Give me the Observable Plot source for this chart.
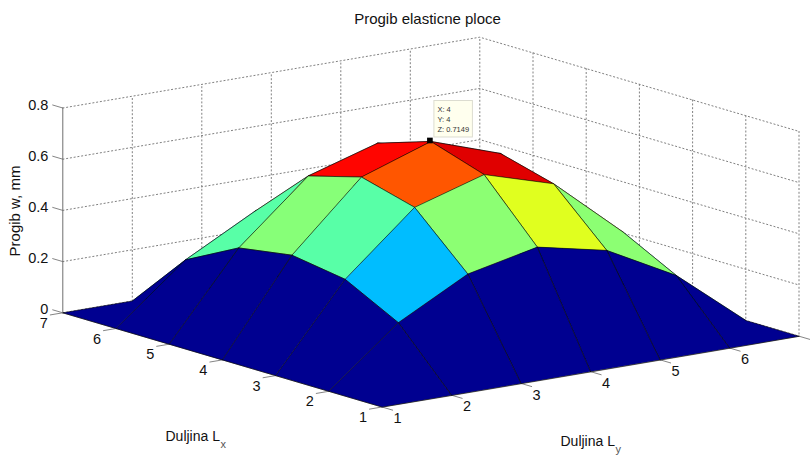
<!DOCTYPE html>
<html>
<head>
<meta charset="utf-8">
<script src="https://cdn.jsdelivr.net/npm/d3@7"></script>
<script src="https://cdn.jsdelivr.net/npm/@observablehq/plot@0.6"></script>
<style>html,body{margin:0;padding:0;background:#fff}svg{display:block}</style>
</head>
<body>
<div id="chart"></div>
<script>
// Values
const xTicks = [1, 2, 3, 4, 5, 6, 7];
const yTicks = [1, 2, 3, 4, 5, 6, 7];
const zTicks = [0, 0.2, 0.4, 0.6, 0.8];
const row1 = [0, 0, 0, 0, 0, 0, 0];
const row2 = [0, 0.222, 0.33, 0.363, 0.33, 0.222, 0];
const row3 = [0, 0.366, 0.565, 0.622, 0.565, 0.366, 0];
const row4 = [0, 0.425, 0.647, 0.7149, 0.647, 0.425, 0];
const row5 = [0, 0.366, 0.565, 0.622, 0.565, 0.366, 0];
const row6 = [0, 0.222, 0.33, 0.363, 0.33, 0.222, 0];
const row7 = [0, 0, 0, 0, 0, 0, 0];
const rows = [row1, row2, row3, row4, row5, row6, row7]; // rows[y-1][x-1]
const tipLines = ["X: 4", "Y: 4", "Z: 0.7149"];

// Fixed-view orthographic projection of the 3D axes onto the page plane
const W = 810, H = 455;
const origin = [381.5, 406.5], xStep = [-53.2, -15.7], yStep = [69.5, -11.8], zStep = -256;
const pu = (x, y) => origin[0] + (x - 1) * xStep[0] + (y - 1) * yStep[0];
const pv = (x, y, z) => origin[1] + (x - 1) * xStep[1] + (y - 1) * yStep[1] + z * zStep;
const P = (x, y, z, id, extra) => ({u: pu(x, y), v: pv(x, y, z), id, ...extra});

// Surface faces, back to front; each face coloured by its lowest-index corner
const faces = [];
for (let i = 6; i >= 1; --i) for (let j = 6; j >= 1; --j) {
  const z = (x, y) => rows[y - 1][x - 1];
  const id = `${i}-${j}`, c = z(i, j);
  for (const [x, y] of [[i, j], [i + 1, j], [i + 1, j + 1], [i, j + 1]])
    faces.push(P(x, y, z(x, y), id, {c}));
}

// Walls
const grid = [];
zTicks.forEach(z => {
  grid.push(P(7, 1, z, "zl" + z), P(7, 7, z, "zl" + z), P(1, 7, z, "zl" + z));
});
yTicks.slice(1).forEach(y => grid.push(P(7, y, 0, "wy" + y), P(7, y, 0.8, "wy" + y)));
xTicks.slice(0, 6).forEach(x => grid.push(P(x, 7, 0.8, "wx" + x), P(x, 7, 0, "wx" + x)));

// Axis lines and ticks
const axes = [
  P(7, 1, 0, "z"), P(7, 1, 0.8, "z"),
  P(1, 1, 0, "x"), P(7, 1, 0, "x"),
  P(1, 1, 0, "y"), P(1, 7, 0, "y")
];
const ticks = [];
zTicks.forEach(z => ticks.push(P(7, 1, z, "tz" + z), P(7.19, 1, z, "tz" + z)));
xTicks.forEach(x => ticks.push(P(x, 1, 0, "tx" + x), P(x, 0.82, 0, "tx" + x)));
yTicks.forEach(y => ticks.push(P(1, y, 0, "ty" + y), P(0.8, y, 0, "ty" + y)));

const zLab = zTicks.map(z => ({u: pu(7, 1) - 14.5, v: pv(7, 1, z) - 3, t: String(z)}));
const xLab = xTicks.map(x => ({u: pu(x, 1) - 19, v: pv(x, 1, 0) + 10.5, t: String(x)}));
const yLab = yTicks.slice(0, 6).map(y => ({u: pu(1, y) + 15.5, v: pv(1, y, 0) + 11.5, t: String(y)}));

// Data tip anchored at the peak
const peak = {u: pu(4, 4) - 1, v: pv(4, 4, 0.7149) - 1};
const tipBox = [{x1: peak.u + 4.5, x2: peak.u + 43, y1: peak.v - 39.5, y2: peak.v - 3}];
const tipText = tipLines.map((t, i) => ({u: peak.u + 7.5, v: peak.v - 31 + i * 10, t}));

const font = "Liberation Sans, Arial, sans-serif";
const uv = {x: "u", y: "v"};
const jetAt = [0, 0.125, 0.375, 0.625, 0.875, 1];
const jet = ["#000090", "#0000ff", "#00ffff", "#ffff00", "#ff0000", "#800000"];

const plot = Plot.plot({
  width: W, height: H, margin: 0,
  style: {background: "#fff", fontFamily: font},
  x: {domain: [0, W], range: [0, W], axis: null},
  y: {domain: [0, H], range: [0, H], axis: null},
  color: {type: "linear", domain: jetAt.map(t => t * 0.7149), range: jet, interpolate: "rgb"},
  marks: [
    Plot.line(grid, {...uv, z: "id", stroke: "#808080", strokeWidth: 1, strokeDasharray: "1.2 2.6"}),
    Plot.line(axes, {...uv, z: "id", stroke: "#6e6e6e", strokeWidth: 1}),
    Plot.line(ticks, {...uv, z: "id", stroke: "#777", strokeWidth: 0.9}),
    Plot.line(faces, {...uv, z: "id", fill: "c", stroke: "#000", strokeWidth: 0.55, curve: "linear-closed", strokeLinejoin: "round"}),
    Plot.text(zLab, {...uv, text: "t", textAnchor: "end", fontSize: 14.5, fill: "#111"}),
    Plot.text(xLab, {...uv, text: "t", fontSize: 14.5, fill: "#111"}),
    Plot.text(yLab, {...uv, text: "t", fontSize: 14.5, fill: "#111"}),
    Plot.text([{u: 427, v: 18.5, t: "Progib elasticne ploce"}], {...uv, text: "t", fontSize: 15, fill: "#111"}),
    Plot.text([{u: 15, v: 210.5, t: "Progib w, mm"}], {...uv, text: "t", rotate: -90, fontSize: 15, fill: "#111"}),
    Plot.text([{u: 165, v: 436, t: "Duljina L"}], {...uv, text: "t", textAnchor: "start", fontSize: 14, fill: "#111"}),
    Plot.text([{u: 220, v: 444, t: "x"}], {...uv, text: "t", textAnchor: "start", fontSize: 11, fill: "#555"}),
    Plot.text([{u: 560, v: 441, t: "Duljina L"}], {...uv, text: "t", textAnchor: "start", fontSize: 14, fill: "#111"}),
    Plot.text([{u: 615, v: 448.5, t: "y"}], {...uv, text: "t", textAnchor: "start", fontSize: 11, fill: "#555"}),
    Plot.rect(tipBox, {x1: "x1", x2: "x2", y1: "y1", y2: "y2", fill: "#ffffee", stroke: "#dcdcd0", strokeWidth: 1}),
    Plot.text(tipText, {...uv, text: "t", textAnchor: "start", fontSize: 7.5, fill: "#333"}),
    Plot.dot([peak], {...uv, symbol: "square", r: 3.2, fill: "#000", stroke: "none"})
  ]
});
document.getElementById("chart").append(plot);
</script>
</body>
</html>
